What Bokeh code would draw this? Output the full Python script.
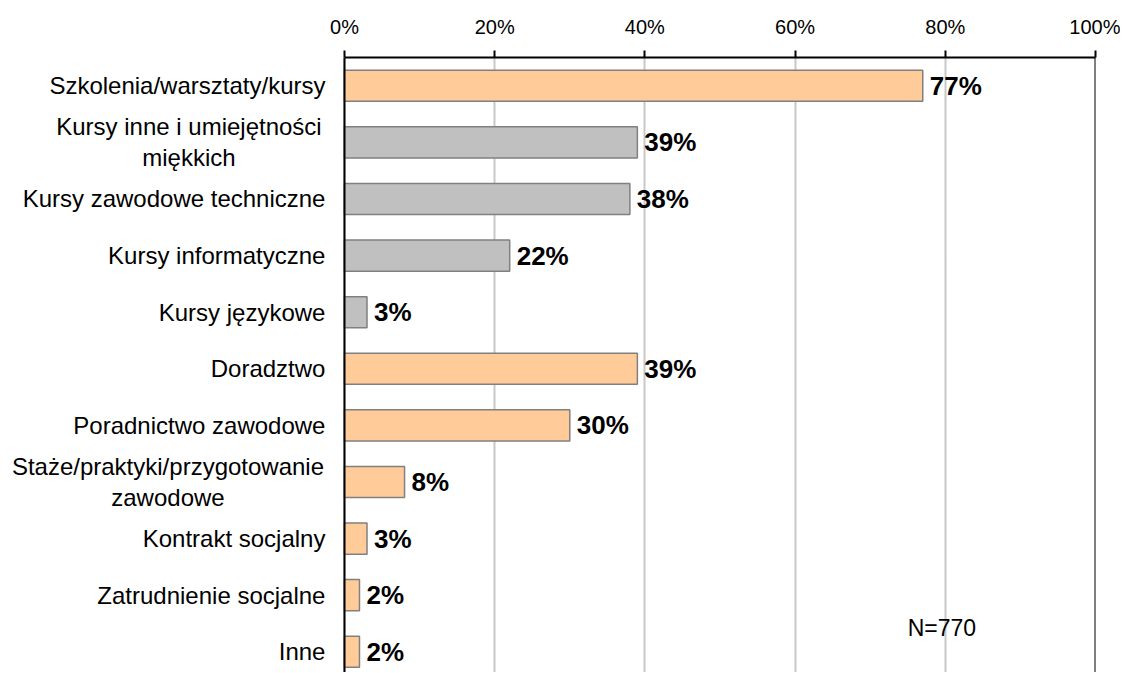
from bokeh.plotting import figure
from bokeh.models import Range1d, FixedTicker, PrintfTickFormatter, Span, ColumnDataSource, Label
from bokeh.core.properties import value
from bokeh.embed import file_html
from bokeh.resources import INLINE

categories = [
    "Szkolenia/warsztaty/kursy",
    "Kursy inne i umiejętności\nmiękkich",
    "Kursy zawodowe techniczne",
    "Kursy informatyczne",
    "Kursy językowe",
    "Doradztwo",
    "Poradnictwo zawodowe",
    "Staże/praktyki/przygotowanie\nzawodowe",
    "Kontrakt socjalny",
    "Zatrudnienie socjalne",
    "Inne",
]
values = [77, 39, 38, 22, 3, 39, 30, 8, 3, 2, 2]
groups = ["main", "sub", "sub", "sub", "sub", "main", "main", "main", "main", "main", "main"]
x_ticks = [0, 20, 40, 60, 80, 100]
note = "N=770"

FONT = "Liberation Sans"
CAT_SIZE = "24px"
colors = {"main": "#FFCC99", "sub": "#C0C0C0"}

idx = list(range(len(categories)))
src = ColumnDataSource(dict(
    y=idx,
    v=values,
    color=[colors[g] for g in groups],
    lab=[f"{v}%" for v in values],
))

# category label sources: single-line (right aligned) and wrapped (centred block)
single = [(i, c) for i, c in zip(idx, categories) if "\n" not in c]
wrapped = [(i, c) for i, c in zip(idx, categories) if "\n" in c]
wrapped_offsets = {1: -155.5, 7: -176.5}   # px from the 0% line to the block centre
src_single = ColumnDataSource(dict(y=[i for i, _ in single], t=[c for _, c in single]))
src_wrap = ColumnDataSource(dict(y=[i for i, _ in wrapped], t=[c for _, c in wrapped],
                                 off=[wrapped_offsets[i] for i, _ in wrapped]))

p = figure(
    width=1120, height=672,
    x_range=Range1d(-45.8, 100),
    y_range=Range1d(10.366, -0.5),
    x_axis_location="above",
    y_axis_location=None,
    output_backend="svg",
    toolbar_location=None,
    min_border_left=0, min_border_right=25,
    min_border_top=57, min_border_bottom=0,
)
p.outline_line_color = None
p.background_fill_color = "white"
p.border_fill_color = "white"

p.xgrid.ticker = FixedTicker(ticks=x_ticks)
p.xgrid.grid_line_color = "#C8C8C8"
p.xgrid.grid_line_width = 2
p.ygrid.grid_line_color = None

p.hbar(y="y", right="v", left=0, height=0.55, fill_color="color",
       line_color="#808080", line_width=1.5, source=src)

p.text(x="v", y="y", text="lab", source=src, x_offset=7,
       text_align="left", text_baseline="middle",
       text_font=value(FONT), text_font_size="26px", text_font_style="bold",
       text_color="black")

p.text(x=0, y="y", text="t", source=src_single, x_offset=-19,
       text_align="right", text_baseline="middle",
       text_font=value(FONT), text_font_size=CAT_SIZE, text_color="black")
p.text(x=0, y="y", text="t", source=src_wrap, x_offset="off",
       text_align="center", text_baseline="middle", text_line_height=1.15,
       text_font=value(FONT), text_font_size=CAT_SIZE, text_color="black")

# x axis (top)
xa = p.xaxis[0]
xa.bounds = (0, 100)
xa.ticker = FixedTicker(ticks=x_ticks)
xa.formatter = PrintfTickFormatter(format="%d%%")
xa.axis_line_color = "black"
xa.axis_line_width = 2
xa.major_tick_line_color = "black"
xa.major_tick_line_width = 2
xa.major_tick_out = 7
xa.major_tick_in = 0
xa.minor_tick_line_color = None
xa.major_label_standoff = 13
xa.major_label_text_font = FONT
xa.major_label_text_font_size = "20px"
xa.major_label_text_color = "black"

# vertical axis line at 0% and border line at 100%
p.add_layout(Span(location=0, dimension="height", line_color="black", line_width=2))
p.add_layout(Span(location=100, dimension="height", line_color="black", line_width=2))

p.add_layout(Label(x=75, y=9.58, text=note, text_align="left", text_baseline="middle",
                   text_font=FONT, text_font_size="23px", text_color="black"))

open("out.html", "w").write(file_html(p, INLINE))
